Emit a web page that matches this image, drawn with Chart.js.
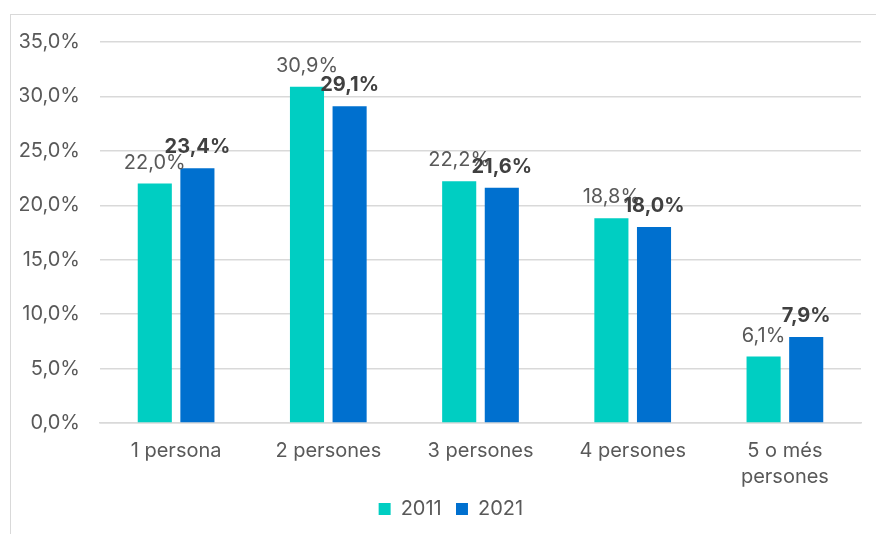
<!DOCTYPE html>
<html>
<head>
<meta charset="utf-8">
<script src="https://cdn.jsdelivr.net/npm/chart.js@4"></script>
<style>
  html, body { margin: 0; padding: 0; background: #fff; overflow: hidden; }
  #frame { position: absolute; left: 10px; top: 14px; width: 900px; height: 600px; border: 1px solid #d9d9d9; box-sizing: border-box; }
  #wrap { position: absolute; left: 0; top: 0; width: 876px; height: 534px; }
</style>
</head>
<body>
<div id="frame"></div>
<div id="wrap"><canvas id="myChart" width="876" height="534"></canvas></div>
<script>
var categories = ['1 persona', '2 persones', '3 persones', '4 persones', ['5 o més', 'persones']];
var values2011 = [22.0, 30.9, 22.2, 18.8, 6.1];
var values2021 = [23.4, 29.1, 21.6, 18.0, 7.9];
var seriesLabels = ['2011', '2021'];

var fontFamily = "Inter, sans-serif";

function fmt(v) {
  return v.toFixed(1).replace('.', ',') + '%';
}

// draw the value labels above each bar
var valueLabels = {
  id: 'valueLabels',
  afterLayout: function (chart) {
    // legend sits a little right of the canvas centre in the original
    if (chart.legend) {
      chart.legend.left += 16;
      chart.legend.right += 16;
    }
  },
  afterDatasetsDraw: function (chart) {
    var ctx = chart.ctx;
    chart.data.datasets.forEach(function (ds, i) {
      var meta = chart.getDatasetMeta(i);
      meta.data.forEach(function (bar, j) {
        ctx.save();
        ctx.textAlign = 'center';
        ctx.textBaseline = 'alphabetic';
        if (i === 1) {
          ctx.font = 'bold 20px ' + fontFamily;
          ctx.fillStyle = '#404040';
        } else {
          ctx.font = '20px ' + fontFamily;
          ctx.fillStyle = '#595959';
        }
        ctx.fillText(fmt(ds.data[j]), bar.x, bar.y - 15);
        ctx.restore();
      });
    });
  }
};

var ctx = document.getElementById('myChart').getContext('2d');
var myChart = new Chart(ctx, {
  type: 'bar',
  data: {
    labels: categories,
    datasets: [{
      label: seriesLabels[0],
      data: values2011,
      backgroundColor: '#00CEC2',
      barPercentage: 0.8,
      categoryPercentage: 0.56
    }, {
      label: seriesLabels[1],
      data: values2021,
      backgroundColor: '#0070CF',
      barPercentage: 0.8,
      categoryPercentage: 0.56
    }]
  },
  options: {
    responsive: false,
    animation: false,
    layout: {
      padding: { left: 20, right: 15, top: 42, bottom: 5 }
    },
    scales: {
      y: {
        min: 0,
        max: 35,
        ticks: {
          stepSize: 5,
          padding: 20,
          color: '#595959',
          font: { family: fontFamily, size: 20 },
          callback: function (v) { return fmt(v); }
        },
        grid: { color: '#d9d9d9', lineWidth: 1.5, drawTicks: false },
        border: { display: false },
        afterFit: function (axis) { axis.width = 80; }
      },
      x: {
        ticks: {
          color: '#595959',
          padding: 15,
          font: { family: fontFamily, size: 20, lineHeight: 1.3 },
          maxRotation: 0
        },
        grid: { display: false, drawTicks: false },
        border: { color: '#d9d9d9', width: 1.5 },
        afterFit: function (axis) { axis.height = axis.height - 9; }
      }
    },
    plugins: {
      legend: {
        position: 'bottom',
        labels: {
          boxWidth: 12,
          boxHeight: 12,
          padding: 3,
          color: '#595959',
          font: { family: fontFamily, size: 20 },
          generateLabels: function (chart) {
            var items = Chart.defaults.plugins.legend.labels.generateLabels(chart);
            items.forEach(function (it) { it.text = it.text + '  '; });
            return items;
          }
        }
      },
      tooltip: { enabled: false }
    }
  },
  plugins: [valueLabels]
});
</script>
</body>
</html>
